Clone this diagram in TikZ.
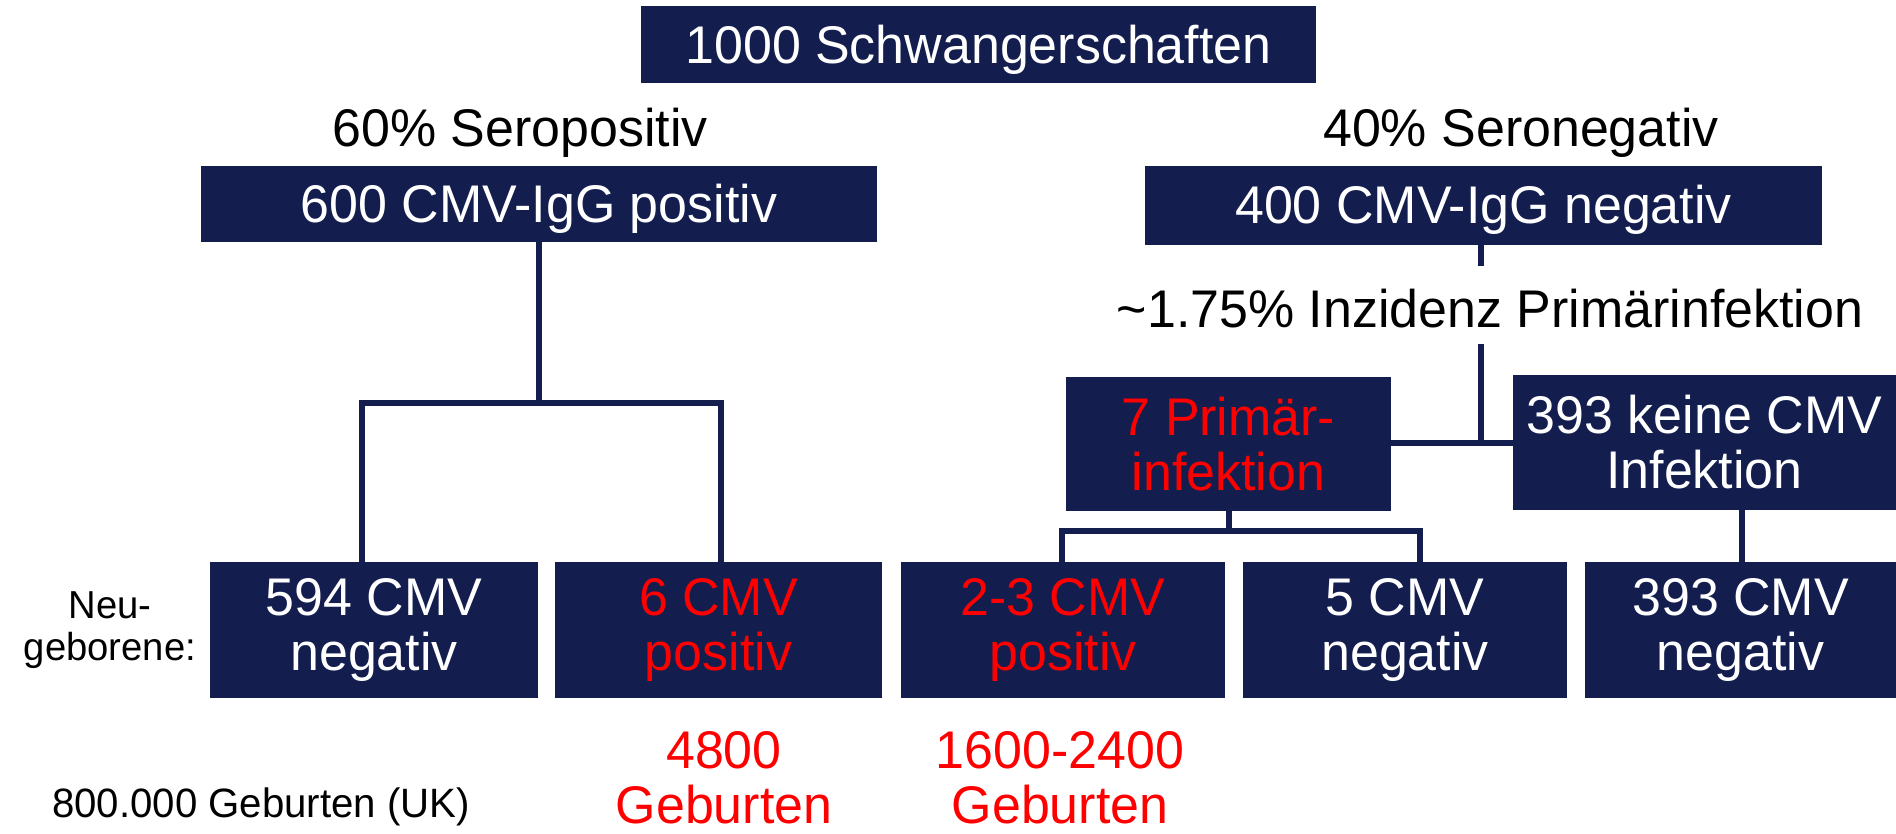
\documentclass[tikz,border=0pt]{standalone}
\usepackage{fontspec}
\setmainfont{Liberation Sans}[FakeStretch=0.98]
\definecolor{navy}{RGB}{19,30,79}
\definecolor{redtext}{RGB}{255,0,0}
\newcommand{\bigf}{\fontsize{53}{55}\selectfont}
\newcommand{\smallf}{\fontsize{39}{42}\selectfont}
\newcommand{\midf}{\fontsize{41}{44}\selectfont}
\begin{document}
\begin{tikzpicture}[x=1pt,y=-1pt,
 box/.style={fill=navy,text=white,inner sep=0pt,align=center,font=\bigf},
 redbox/.style={box,text=redtext},
 oneline/.style={text depth=2pt},
 twoline/.style={execute at begin node={\rule{0pt}{47pt}}},
 lbl/.style={inner sep=0pt,align=center,font=\bigf},
 conn/.style={draw=navy,line width=6pt},
]
\useasboundingbox (0,0) rectangle (1896,833);
\node[box,oneline,text depth=0pt,minimum width=675pt,minimum height=77pt] (top) at (978.5,44.5) {1000 Schwangerschaften};
\node[lbl,anchor=base] (seropos) at (520,146) {60\% Seropositiv};
\node[lbl,anchor=base] (seroneg) at (1521,146) {40\% Seronegativ};
\node[box,oneline,minimum width=676pt,minimum height=76pt] (lbox) at (539,204) {600 CMV-IgG positiv};
\node[box,oneline,minimum width=677pt,minimum height=79pt] (rbox) at (1483.5,205.5) {400 CMV-IgG negativ};
\node[lbl,anchor=base] (inz) at (1490,327) {\textasciitilde1.75\% Inzidenz Primärinfektion};
\node[redbox,twoline,minimum width=325pt,minimum height=134pt] (p7) at (1228.5,444) {7 Primär-\\infektion};
\node[box,twoline,minimum width=383pt,minimum height=135pt] (k393) at (1704.5,442.5) {393 keine CMV\\Infektion};
\node[box,twoline,minimum width=328pt,minimum height=136pt] (b594) at (374,630) {594 CMV\\negativ};
\node[redbox,twoline,minimum width=327pt,minimum height=136pt] (b6) at (718.5,630) {6 CMV\\positiv};
\node[redbox,twoline,minimum width=324pt,minimum height=136pt] (b23) at (1063,630) {2-3 CMV\\positiv};
\node[box,twoline,minimum width=324pt,minimum height=136pt] (b5) at (1405,630) {5 CMV\\negativ};
\node[box,twoline,minimum width=311pt,minimum height=136pt] (b393) at (1740.5,630) {393 CMV\\negativ};
\node[lbl,font=\smallf] (neu) at (110,630) {Neu-\\geborene:};
\node[lbl,text=redtext,anchor=north] (g4800) at (724,731) {4800\\Geburten};
\node[lbl,text=redtext,anchor=north] (g1600) at (1060,731) {1600-2400\\Geburten};
\node[lbl,font=\midf,anchor=base] (uk) at (261,817) {800.000 Geburten (UK)};
% left tree
\coordinate (L1) at (362,403);
\coordinate (L2) at (721,403);
\draw[conn] (lbox.south) -- (lbox.south |- L1);
\draw[conn] (b594.north -| L1) |- (L2) -- (b6.north -| L2);
% right tree
\coordinate (R1) at (1481,266);
\coordinate (R2) at (1481,344);
\coordinate (RJ) at (1481,443);
\draw[conn] (rbox.south -| R1) -- (R1);
\draw[conn] (R2) -- (RJ);
\draw[conn] (p7.east |- RJ) -- (k393.west |- RJ);
% primary infection tree
\coordinate (P1) at (1062,531);
\coordinate (P2) at (1420,531);
\draw[conn] (p7.south) -- (p7.south |- P1);
\draw[conn] (b23.north -| P1) |- (P2) -- (b5.north -| P2);
% no infection
\coordinate (K1) at (1742,0);
\draw[conn] (k393.south -| K1) -- (b393.north -| K1);
\end{tikzpicture}
\end{document}
